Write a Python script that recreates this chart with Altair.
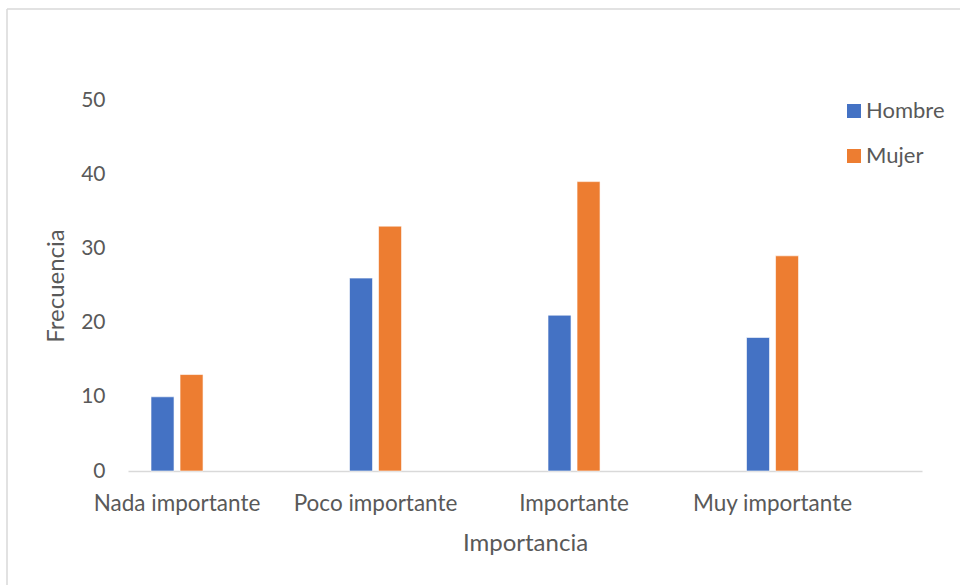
import altair as alt
import pandas as pd

categories = ["Nada importante", "Poco importante", "Importante", "Muy importante"]
hombre = [10, 26, 21, 18]
mujer = [13, 33, 39, 29]
series = ["Hombre", "Mujer"]

rows = []
for c, h, m in zip(categories, hombre, mujer):
    rows.append({"Importancia": c, "Sexo": "Hombre", "Frecuencia": h})
    rows.append({"Importancia": c, "Sexo": "Mujer", "Frecuencia": m})
df = pd.DataFrame(rows)

FONT = "Lato"
TXT = "#595959"

bars = alt.Chart(df).mark_bar(stroke="white", strokeWidth=0.6).encode(
    x=alt.X("Importancia:N", sort=categories,
            scale=alt.Scale(paddingInner=0.506, paddingOuter=0.253, align=0),
            axis=alt.Axis(title="Importancia", labelAngle=0, ticks=False,
                          domainColor="#D9D9D9", domainWidth=1.5,
                          labelPadding=21, titlePadding=17)),
    xOffset=alt.XOffset("Sexo:N", sort=series,
                        scale=alt.Scale(paddingInner=0.207, paddingOuter=0.793)),
    y=alt.Y("Frecuencia:Q", scale=alt.Scale(domain=[0, 50], nice=False),
            axis=alt.Axis(title="Frecuencia", values=[0, 10, 20, 30, 40, 50],
                          domain=False, ticks=False, grid=False,
                          labelPadding=23, titlePadding=12)),
    color=alt.Color("Sexo:N", sort=series,
                    scale=alt.Scale(domain=series, range=["#4472C4", "#ED7D31"]),
                    legend=alt.Legend(title=None, orient="none", legendX=715, legendY=0,
                                      symbolType="square", symbolSize=196,
                                      symbolStrokeWidth=0, rowPadding=23,
                                      labelFontSize=22, labelColor=TXT, labelFont=FONT,
                                      labelOffset=1)),
)

frame_df = pd.DataFrame({"k": [0]})
left_border = alt.Chart(frame_df).mark_rule(color="#D9D9D9", strokeWidth=1.5, clip=False).encode(
    x=alt.value(-121), y=alt.value(-91), y2=alt.value(485))
top_border = alt.Chart(frame_df).mark_rule(color="#D9D9D9", strokeWidth=1.5, clip=False).encode(
    x=alt.value(-121), x2=alt.value(832), y=alt.value(-91))

chart = alt.layer(left_border, top_border, bars).properties(
    width=794, height=371,
    autosize=alt.AutoSizeParams(type="none"),
    padding={"left": 128, "top": 100, "right": 38, "bottom": 114},
).configure_view(stroke=None).configure_axis(
    labelFont=FONT, titleFont=FONT, labelColor=TXT, titleColor=TXT,
    titleFontWeight="normal", labelFontSize=22.5, titleFontSize=24,
).configure_axisY(labelFontSize=21)

chart.save("out.html", embed_options={"renderer": "svg", "actions": False})
